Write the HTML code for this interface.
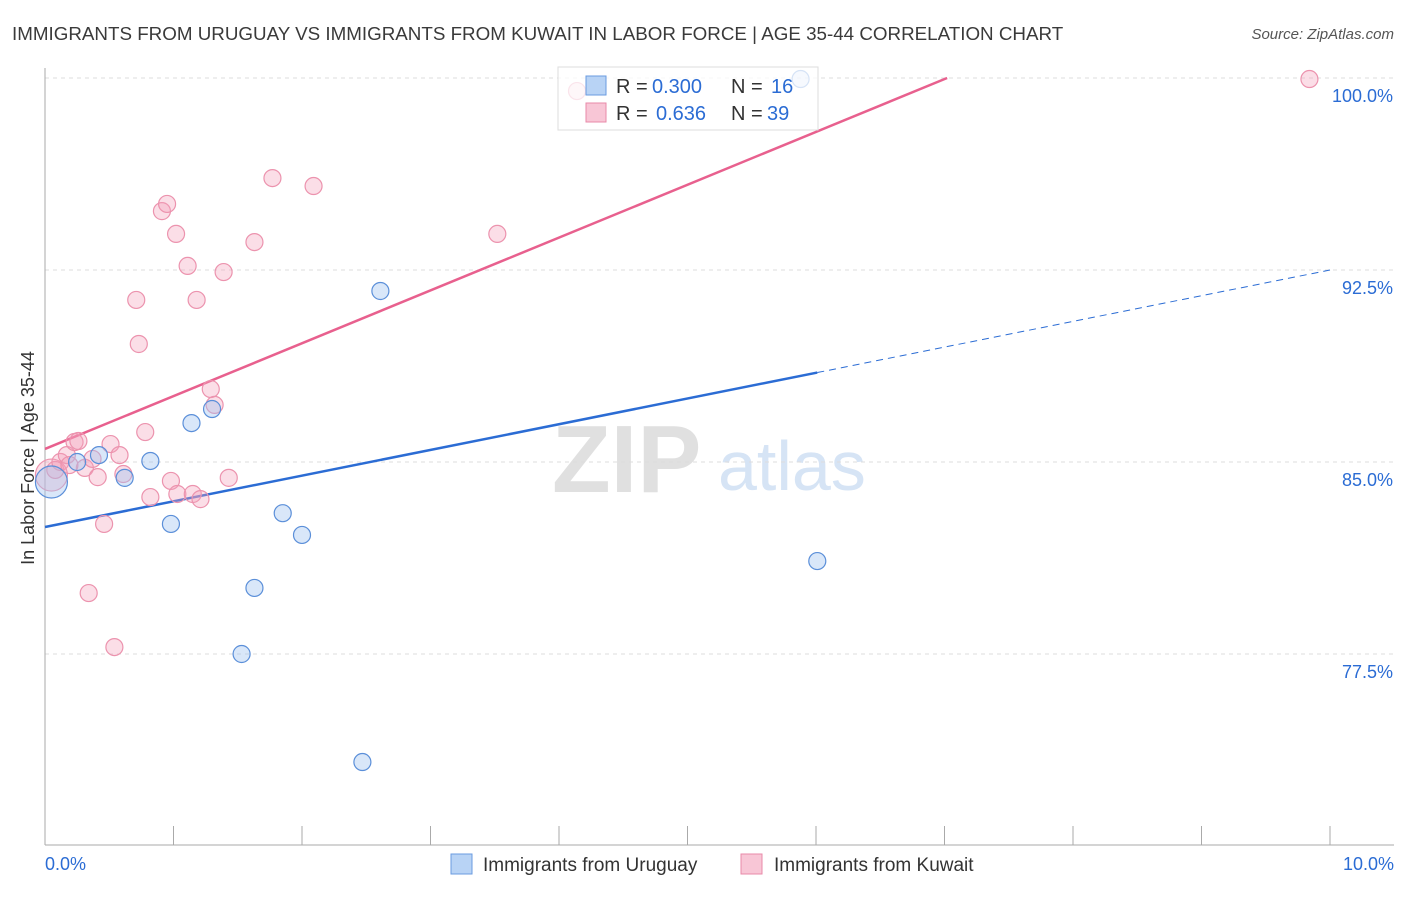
<!DOCTYPE html>
<html><head><meta charset="utf-8"><style>
body{margin:0;background:#fff;font-family:"Liberation Sans",sans-serif}
svg text{font-family:"Liberation Sans",sans-serif}
</style></head><body>
<svg id="chart" width="1406" height="892" viewBox="0 0 1406 892" xmlns="http://www.w3.org/2000/svg">
<text x="12" y="40" font-size="18.8" fill="#3a3a3a">IMMIGRANTS FROM URUGUAY VS IMMIGRANTS FROM KUWAIT IN LABOR FORCE | AGE 35-44 CORRELATION CHART</text>
<text x="1394" y="39" font-size="15" fill="#555" font-style="italic" text-anchor="end">Source: ZipAtlas.com</text>
<g>
<text x="552" y="492" font-size="96" fill="#e0e0e0" font-family="Liberation Serif" font-weight="bold">ZIP</text>
<text x="718" y="490" font-size="70" fill="#d6e4f5">atlas</text>
</g>
<g id="grid"></g><g id="axes"></g><g id="lines"></g><g id="pts"></g>
<text transform="translate(34,458) rotate(-90)" font-size="18" fill="#333" text-anchor="middle">In Labor Force | Age 35-44</text>
<g>
<rect x="558" y="67" width="260" height="63" fill="#fff" fill-opacity="0.75" stroke="#ddd"/>
<rect x="586" y="76" width="20" height="19" fill="#b8d3f5" stroke="#6a9be0"/>
<text x="616" y="93" font-size="20" fill="#333">R =</text>
<text x="652" y="93" font-size="20" fill="#2b6cd4">0.300</text>
<text x="731" y="93" font-size="20" fill="#333">N =</text>
<text x="771" y="93" font-size="20" fill="#2b6cd4">16</text>
<rect x="586" y="103" width="20" height="19" fill="#f8c6d6" stroke="#e88aa8"/>
<text x="616" y="120" font-size="20" fill="#333">R =</text>
<text x="656" y="120" font-size="20" fill="#2b6cd4">0.636</text>
<text x="731" y="120" font-size="20" fill="#333">N =</text>
<text x="767" y="120" font-size="20" fill="#2b6cd4">39</text>
</g>
<g>
<rect x="451" y="854" width="21" height="20" fill="#b8d3f5" stroke="#6a9be0"/>
<text x="483" y="871" font-size="19" fill="#333">Immigrants from Uruguay</text>
<rect x="741" y="854" width="21" height="20" fill="#f8c6d6" stroke="#e88aa8"/>
<text x="774" y="871" font-size="19" fill="#333">Immigrants from Kuwait</text>
</g>
</svg>
<script>
const yTicks=[77.5,85.0,92.5,100.0];
const blueX=[0.05,0.25,0.42,0.62,0.82,0.98,1.14,1.30,1.63,1.53,1.85,2.0,2.61,2.47,6.01,5.88];
const blueY=[84.22,85.0,85.27,84.38,85.04,82.58,86.52,87.07,80.08,77.5,83.0,82.15,91.68,73.28,81.13,99.96];
const pinkX=[0.05,0.08,0.12,0.17,0.23,0.26,0.31,0.34,0.37,0.41,0.46,0.51,0.54,0.58,0.61,0.71,0.73,0.78,0.82,0.91,0.95,0.98,1.02,1.03,1.11,1.15,1.18,1.21,1.29,1.32,1.39,1.43,1.63,1.77,2.09,3.52,4.14,9.84,0.19];
const pinkY=[84.49,84.69,85.0,85.27,85.78,85.82,84.77,79.88,85.12,84.41,82.58,85.7,77.77,85.27,84.53,91.33,89.61,86.17,83.63,94.8,95.08,84.26,93.91,83.75,92.66,83.75,91.33,83.55,87.85,87.23,92.42,84.38,93.59,96.09,95.78,93.91,99.49,99.96,84.88];
const blueTrend=[82.46,92.5];
const pinkTrend=[85.51,2.064];
const NS="http://www.w3.org/2000/svg";
const xs=v=>45+v*128.5, ys=v=>78+(100-v)*25.6;
function mk(t,a,p){const e=document.createElementNS(NS,t);for(const k in a)e.setAttribute(k,a[k]);document.getElementById(p).appendChild(e);return e;}
yTicks.forEach(t=>{
const l=mk('line',{x1:45,x2:1394,y1:ys(t),y2:ys(t),stroke:'#ddd','stroke-dasharray':'4,4'},'grid');


const tx=mk('text',{x:1393,y:ys(t)+24,'font-size':18,fill:'#2b6cd4','text-anchor':'end'},'grid');
tx.textContent=t.toFixed(1)+'%';


});
let ax=mk('line',{x1:45,x2:45,y1:68,y2:845,stroke:'#aaa'},'axes');


ax=mk('line',{x1:45,x2:1394,y1:845,y2:845,stroke:'#aaa'},'axes');


for(let i=1;i<=10;i++){const t=mk('line',{x1:xs(i),x2:xs(i),y1:826,y2:845,stroke:'#aaa'},'axes');

}
[[0,'0.0%',45,'start'],[10,'10.0%',1394,'end']].forEach(d=>{const t=mk('text',{x:d[2],y:870,'font-size':18,fill:'#2b6cd4','text-anchor':d[3]},'axes');t.textContent=d[1];

});
const bAt=v=>blueTrend[0]+(blueTrend[1]-blueTrend[0])*v/10;
let L=mk('line',{x1:xs(0),y1:ys(bAt(0)),x2:xs(6.01),y2:ys(bAt(6.01)),stroke:'#2b6cd4','stroke-width':2.5},'lines');


L=mk('line',{x1:xs(6.01),y1:ys(bAt(6.01)),x2:xs(10),y2:ys(bAt(10)),stroke:'#2b6cd4','stroke-width':1,'stroke-dasharray':'7,5'},'lines');


const xEnd=(100-pinkTrend[0])/pinkTrend[1];
L=mk('line',{x1:xs(0),y1:ys(pinkTrend[0]),x2:xs(xEnd),y2:ys(100),stroke:'#e8608e','stroke-width':2.5},'lines');


function pts(X,Y,fill,stroke,name){X.forEach((x,i)=>{const c=mk('circle',{cx:xs(x),cy:ys(Y[i]),r:i===0?16:8.5,fill:fill,stroke:stroke,'stroke-width':1.2},'pts');

});}
pts(pinkX,pinkY,'rgba(244,160,186,0.35)','#ec93ae','kuwait-point');
pts(blueX,blueY,'rgba(160,196,240,0.4)','#5b8fd9','uruguay-point');
</script>
</body></html>
